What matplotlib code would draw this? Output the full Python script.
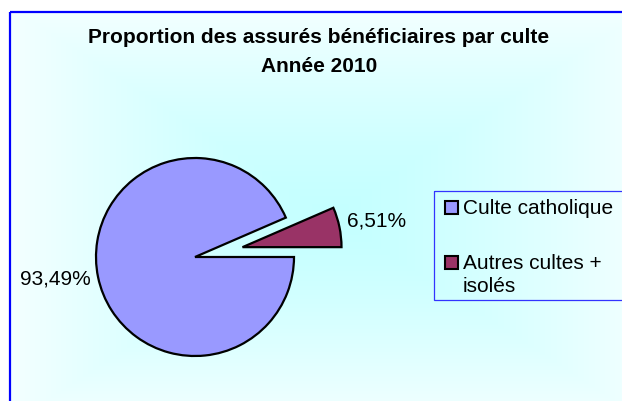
import numpy as np
import matplotlib
matplotlib.use("Agg")
import matplotlib.pyplot as plt
from matplotlib.patches import Rectangle

plt.rcParams['font.family'] = ['Liberation Sans', 'DejaVu Sans']

# ---- data ----
categories = ["Culte catholique", "Autres cultes +\nisolés"]
values = [93.49, 6.51]
value_labels = ["93,49%", "6,51%"]
colors = ["#9999FF", "#993366"]
title_lines = ["Proportion des assurés bénéficiaires par culte", "Année 2010"]

W, H = 622, 401
fig = plt.figure(figsize=(W / 100, H / 100), dpi=100)

def fx(x):
    return x / W

def fy(y):
    return 1 - y / H

# ---- background gradient (rectangular, from center) ----
bg = fig.add_axes([0, 0, 1, 1])
bg.set_axis_off()
yy, xx = np.mgrid[0:H, 0:W]
cx, cy = 330.0, 215.0
hw, hh = 330.0, 215.0
t = np.maximum(np.abs(xx - cx) / hw, np.abs(yy - cy) / hh)
t = np.clip(t, 0, 1) ** 1.35
c0 = np.array([0xC4, 0xFF, 0xFF]) / 255.0
c1 = np.array([0xF6, 0xFF, 0xFF]) / 255.0
img = c0[None, None, :] * (1 - t[..., None]) + c1[None, None, :] * t[..., None]
# outside chart frame is white
img[:11, :, :] = 1.0
img[:, :9, :] = 1.0
bg.imshow(img, extent=[0, W, H, 0], aspect='auto', interpolation='bilinear')
bg.set_xlim(0, W)
bg.set_ylim(H, 0)
bg.add_patch(Rectangle((10, 12), W + 20, H + 20, fill=False,
                       edgecolor="#0000FF", linewidth=1.6, clip_on=False))

# ---- pie ----
R = 99.0
pcx, pcy = 195.0, 257.0
half = 1.5 * R
ax = fig.add_axes([fx(pcx - half), fy(pcy + half), 2 * half / W, 2 * half / H])
wedges, texts = ax.pie(values, colors=colors, startangle=360 * values[1] / 100,
                       counterclock=True, explode=[0, 0.49],
                       labels=value_labels, labeldistance=1.075,
                       wedgeprops=dict(edgecolor="black", linewidth=1.6),
                       textprops=dict(fontsize=15, color="black"))
for w in wedges:
    w.set_clip_on(False)
texts[1].set_y(texts[1].get_position()[1] + 0.05)
ax.set_xlim(-1.5, 1.5)
ax.set_ylim(-1.5, 1.5)
ax.set_aspect('equal')
ax.set_axis_off()

# ---- title ----
fig.text(fx(319), fy(43), title_lines[0], ha='center', va='baseline',
         fontsize=15, fontweight='bold')
fig.text(fx(319), fy(72), title_lines[1], ha='center', va='baseline',
         fontsize=15, fontweight='bold')

# ---- legend ----
bg.add_patch(Rectangle((434, 191), W, 109, fill=False, edgecolor="#3333FF",
                       linewidth=0.9, clip_on=False))
sq = 13
marker_y = [201, 256]
text_base = [214, 269]
line_step = 23
for i, (lab, col) in enumerate(zip(categories, colors)):
    bg.add_patch(Rectangle((445, marker_y[i]), sq, sq, facecolor=col,
                           edgecolor="black", linewidth=1.5))
    for j, line in enumerate(lab.split("\n")):
        bg.text(463, text_base[i] + j * line_step, line, ha='left',
                va='baseline', fontsize=15)

fig.savefig("out.png", dpi=100)
